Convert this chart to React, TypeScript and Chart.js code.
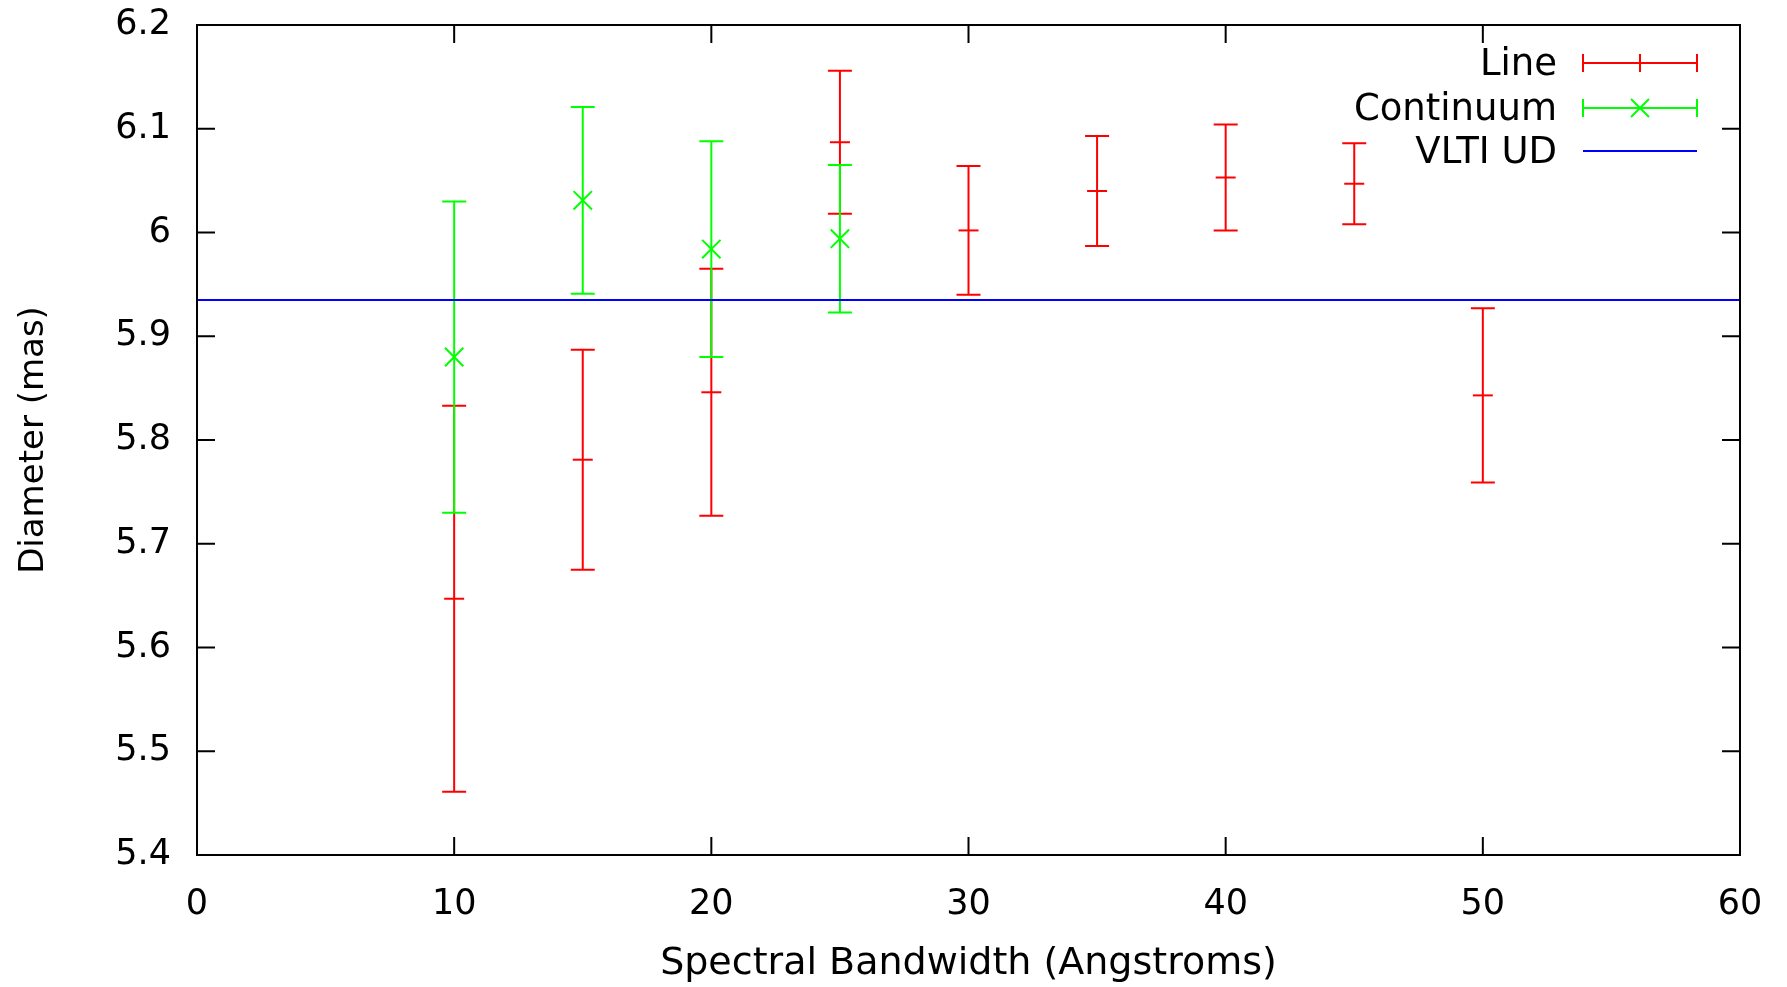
import React, { useEffect, useRef } from 'react';
import { Chart, registerables } from 'chart.js';

Chart.register(...registerables);

// ---- data ----
const lineBandwidth = [10, 15, 20, 25, 30, 35, 40, 45, 50];
const lineDiameter = [5.647, 5.781, 5.846, 6.087, 6.002, 6.04, 6.053, 6.047, 5.843];
const lineError = [0.186, 0.106, 0.119, 0.069, 0.062, 0.053, 0.051, 0.039, 0.084];

const continuumBandwidth = [10, 15, 20, 25];
const continuumDiameter = [5.88, 6.031, 5.984, 5.994];
const continuumError = [0.15, 0.09, 0.104, 0.071];

const vltiRange = [0, 60];
const vltiUD = 5.935;

const xTicks = [0, 10, 20, 30, 40, 50, 60];
const xTickLabels = ['0', '10', '20', '30', '40', '50', '60'];
const yTicks = [5.4, 5.5, 5.6, 5.7, 5.8, 5.9, 6.0, 6.1, 6.2];
const yTickLabels = ['5.4', '5.5', '5.6', '5.7', '5.8', '5.9', '6', '6.1', '6.2'];

const legendLabels = ['Line', 'Continuum', 'VLTI UD'];

const FONT = "'DejaVu Sans', sans-serif";
const RED = '#ff0000';
const GREEN = '#00ff00';
const BLUE = '#0000ff';
const CAP = 12;
const TICK = 18;

const errorBarPlugin = {
  id: 'errorBars',
  beforeDatasetDraw(chart: any, args: any) {
    const ds = chart.data.datasets[args.index];
    if (!ds.yErrors) return;
    const xs = chart.scales.x;
    const ys = chart.scales.y;
    const ctx = chart.ctx;
    ctx.save();
    ctx.strokeStyle = ds.borderColor;
    ctx.lineWidth = 2;
    ds.data.forEach((p: any, i: number) => {
      const e = ds.yErrors[i];
      const px = xs.getPixelForValue(p.x);
      const lo = ys.getPixelForValue(p.y - e);
      const hi = ys.getPixelForValue(p.y + e);
      ctx.beginPath();
      ctx.moveTo(px, lo);
      ctx.lineTo(px, hi);
      ctx.moveTo(px - CAP, lo);
      ctx.lineTo(px + CAP, lo);
      ctx.moveTo(px - CAP, hi);
      ctx.lineTo(px + CAP, hi);
      ctx.stroke();
    });
    ctx.restore();
  },
};

const framePlugin = {
  id: 'frameAndLegend',
  afterDraw(chart: any) {
    const { ctx, chartArea } = chart;
    const { left, right, top, bottom } = chartArea;
    const xs = chart.scales.x;
    const ys = chart.scales.y;
    ctx.save();
    // frame with inward ticks on all four sides
    ctx.strokeStyle = '#000';
    ctx.lineWidth = 2;
    ctx.strokeRect(left, top, right - left, bottom - top);
    ctx.beginPath();
    xTicks.forEach((v) => {
      const px = xs.getPixelForValue(v);
      ctx.moveTo(px, bottom);
      ctx.lineTo(px, bottom - TICK);
      ctx.moveTo(px, top);
      ctx.lineTo(px, top + TICK);
    });
    yTicks.forEach((v) => {
      const py = ys.getPixelForValue(v);
      ctx.moveTo(left, py);
      ctx.lineTo(left + TICK, py);
      ctx.moveTo(right, py);
      ctx.lineTo(right - TICK, py);
    });
    ctx.stroke();

    // legend (top right, inside the frame)
    const textRight = right - 183;
    const s0 = right - 157;
    const s1 = right - 43;
    const sm = (s0 + s1) / 2;
    const rows = [top + 38, top + 83, top + 126];
    const colors = [RED, GREEN, BLUE];
    ctx.font = `37px ${FONT}`;
    ctx.textAlign = 'right';
    ctx.textBaseline = 'middle';
    legendLabels.forEach((label, i) => {
      const y = rows[i];
      ctx.fillStyle = '#000';
      ctx.fillText(label, textRight, y + 2);
      ctx.strokeStyle = colors[i];
      ctx.lineWidth = 2;
      ctx.beginPath();
      ctx.moveTo(s0, y);
      ctx.lineTo(s1, y);
      if (i < 2) {
        ctx.moveTo(s0, y - 9);
        ctx.lineTo(s0, y + 9);
        ctx.moveTo(s1, y - 9);
        ctx.lineTo(s1, y + 9);
      }
      if (i === 0) {
        ctx.moveTo(sm, y - 9);
        ctx.lineTo(sm, y + 9);
      }
      if (i === 1) {
        ctx.moveTo(sm - 9, y - 9);
        ctx.lineTo(sm + 9, y + 9);
        ctx.moveTo(sm - 9, y + 9);
        ctx.lineTo(sm + 9, y - 9);
      }
      ctx.stroke();
    });
    ctx.restore();
  },
};

export default function App() {
  const ref = useRef<HTMLCanvasElement>(null);

  useEffect(() => {
    const config: any = {
      type: 'scatter',
      data: {
        datasets: [
          {
            label: legendLabels[0],
            data: lineBandwidth.map((x, i) => ({ x, y: lineDiameter[i] })),
            yErrors: lineError,
            showLine: false,
            pointStyle: 'line',
            pointRadius: 10,
            pointHoverRadius: 10,
            pointBorderWidth: 2,
            borderColor: RED,
            backgroundColor: RED,
            order: 3,
          },
          {
            label: legendLabels[1],
            data: continuumBandwidth.map((x, i) => ({ x, y: continuumDiameter[i] })),
            yErrors: continuumError,
            showLine: false,
            pointStyle: 'crossRot',
            pointRadius: 13,
            pointHoverRadius: 13,
            pointBorderWidth: 2,
            borderColor: GREEN,
            backgroundColor: GREEN,
            order: 2,
          },
          {
            label: legendLabels[2],
            data: vltiRange.map((x) => ({ x, y: vltiUD })),
            showLine: true,
            pointRadius: 0,
            borderWidth: 2,
            borderColor: BLUE,
            backgroundColor: BLUE,
            order: 1,
          },
        ],
      },
      options: {
        responsive: false,
        animation: false,
        events: [],
        layout: { padding: { left: 0, top: 25, right: 47, bottom: 0 } },
        plugins: {
          legend: { display: false },
          tooltip: { enabled: false },
        },
        scales: {
          x: {
            type: 'linear',
            min: 0,
            max: 60,
            afterBuildTicks: (s: any) => {
              s.ticks = xTicks.map((v) => ({ value: v }));
            },
            afterFit: (s: any) => {
              s.height = 132;
              s.paddingLeft = 0;
              s.paddingRight = 0;
              s.paddingTop = 0;
              s.paddingBottom = 0;
            },
            grid: { display: false, drawTicks: false },
            border: { display: false },
            ticks: {
              padding: 29,
              color: '#000',
              font: { family: FONT, size: 35 },
              callback: (_v: any, i: number) => xTickLabels[i],
              maxRotation: 0,
            },
            title: {
              display: true,
              text: 'Spectral Bandwidth (Angstroms)',
              color: '#000',
              font: { family: FONT, size: 38 },
              padding: { top: 0, bottom: 0 },
            },
          },
          y: {
            type: 'linear',
            min: 5.4,
            max: 6.2,
            afterBuildTicks: (s: any) => {
              s.ticks = yTicks.map((v) => ({ value: v }));
            },
            afterFit: (s: any) => {
              s.width = 197;
              s.paddingLeft = 0;
              s.paddingRight = 0;
              s.paddingTop = 0;
              s.paddingBottom = 0;
            },
            grid: { display: false, drawTicks: false },
            border: { display: false },
            ticks: {
              padding: 26,
              color: '#000',
              font: { family: FONT, size: 35 },
              callback: (_v: any, i: number) => yTickLabels[i],
            },
            title: {
              display: true,
              text: 'Diameter (mas)',
              color: '#000',
              font: { family: FONT, size: 34 },
              padding: { top: 14, bottom: 0 },
            },
          },
        },
      },
      plugins: [errorBarPlugin, framePlugin],
    };
    const chart = new Chart(ref.current as HTMLCanvasElement, config);
    return () => chart.destroy();
  }, []);

  return (
    <div style={{ position: 'fixed', left: 0, top: 0, width: 1787, height: 987, background: '#fff' }}>
      <canvas ref={ref} width={1787} height={987} style={{ display: 'block', width: 1787, height: 987 }} />
    </div>
  );
}
